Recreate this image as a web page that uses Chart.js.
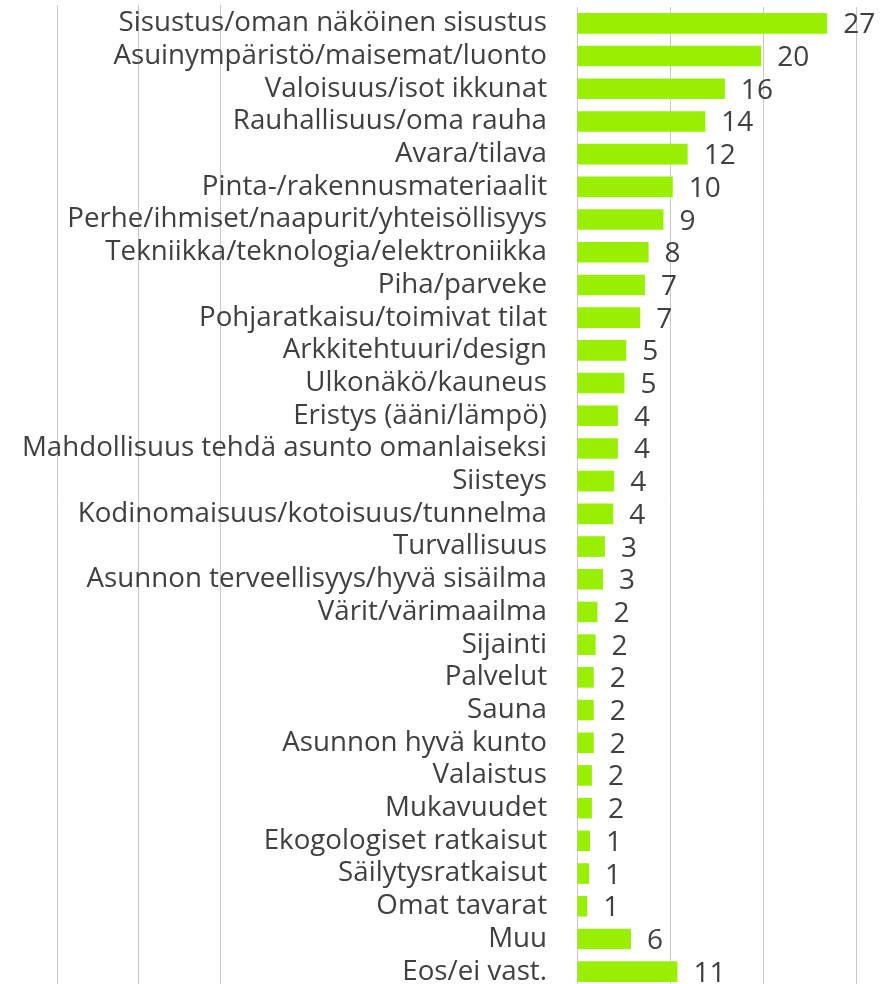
<!DOCTYPE html>
<html>
<head>
<meta charset="utf-8">
<script src="https://cdn.jsdelivr.net/npm/chart.js@4/dist/chart.umd.min.js"></script>
<style>
  html, body { margin: 0; padding: 0; background: #ffffff; overflow: hidden; }
  #wrap { position: relative; width: 882px; height: 988px; }
</style>
</head>
<body>
<div id="wrap"><canvas id="c"></canvas></div>
<script>
const categories = [
  "Sisustus/oman näköinen sisustus",
  "Asuinympäristö/maisemat/luonto",
  "Valoisuus/isot ikkunat",
  "Rauhallisuus/oma rauha",
  "Avara/tilava",
  "Pinta-/rakennusmateriaalit",
  "Perhe/ihmiset/naapurit/yhteisöllisyys",
  "Tekniikka/teknologia/elektroniikka",
  "Piha/parveke",
  "Pohjaratkaisu/toimivat tilat",
  "Arkkitehtuuri/design",
  "Ulkonäkö/kauneus",
  "Eristys (ääni/lämpö)",
  "Mahdollisuus tehdä asunto omanlaiseksi",
  "Siisteys",
  "Kodinomaisuus/kotoisuus/tunnelma",
  "Turvallisuus",
  "Asunnon terveellisyys/hyvä sisäilma",
  "Värit/värimaailma",
  "Sijainti",
  "Palvelut",
  "Sauna",
  "Asunnon hyvä kunto",
  "Valaistus",
  "Mukavuudet",
  "Ekogologiset ratkaisut",
  "Säilytysratkaisut",
  "Omat tavarat",
  "Muu",
  "Eos/ei vast."
];
const values = [26.9, 19.8, 15.9, 13.8, 11.9, 10.3, 9.3, 7.7, 7.3, 6.8, 5.3, 5.1, 4.4, 4.4, 4.0, 3.9, 3.0, 2.8, 2.2, 2.0, 1.8, 1.8, 1.8, 1.6, 1.6, 1.4, 1.3, 1.1, 5.8, 10.8];
const valueLabels = [27, 20, 16, 14, 12, 10, 9, 8, 7, 7, 5, 5, 4, 4, 4, 4, 3, 3, 2, 2, 2, 2, 2, 2, 2, 1, 1, 1, 6, 11];
const axisMin = 0, axisMax = 30, axisStep = 10;

const FONT = "'Open Sans', 'DejaVu Sans', sans-serif";
const TEXT = '#404040';
const GRID = '#c9c9c9';

const backLines = {
  id: 'backLines',
  beforeDraw(chart) {
    const ctx = chart.ctx, a = chart.chartArea;
    ctx.save();
    ctx.strokeStyle = GRID;
    ctx.lineWidth = 1;
    [357, 439, 520].forEach(off => {
      const x = Math.round(a.left - off) + 0.5;
      ctx.beginPath();
      ctx.moveTo(x, a.top - 2);
      ctx.lineTo(x, chart.height);
      ctx.stroke();
    });
    ctx.restore();
  }
};

const valueLabelPlugin = {
  id: 'valueLabels',
  afterDatasetsDraw(chart) {
    const ctx = chart.ctx;
    const meta = chart.getDatasetMeta(0);
    ctx.save();
    ctx.font = "28px " + FONT;
    ctx.fillStyle = TEXT;
    ctx.textAlign = 'left';
    ctx.textBaseline = 'middle';
    meta.data.forEach((bar, i) => {
      ctx.fillText(String(valueLabels[i]), bar.x + 16, bar.y + 2);
    });
    ctx.restore();
  }
};

new Chart(document.getElementById('c'), {
  type: 'bar',
  data: {
    labels: categories,
    datasets: [{
      data: values,
      backgroundColor: '#99ef00',
      borderWidth: 0,
      categoryPercentage: 1.0,
      barPercentage: 0.63
    }]
  },
  options: {
    indexAxis: 'y',
    responsive: true,
    maintainAspectRatio: false,
    animation: false,
    layout: { padding: { top: 7, right: 26, bottom: 0, left: 0 } },
    plugins: { legend: { display: false }, tooltip: { enabled: false } },
    scales: {
      x: {
        min: axisMin, max: axisMax,
        ticks: { stepSize: axisStep, display: false },
        grid: { color: GRID, lineWidth: 1, drawTicks: false },
        border: { display: false }
      },
      y: {
        afterFit(scale) {
          scale.width = 577;
          scale.paddingTop = 0;
          scale.paddingBottom = 0;
        },
        ticks: {
          color: TEXT,
          font: { family: FONT, size: 27.7 },
          padding: 30,
          autoSkip: false
        },
        grid: { display: false, drawTicks: false },
        border: { display: true, color: GRID, width: 1 }
      }
    }
  },
  plugins: [backLines, valueLabelPlugin]
});
</script>
</body>
</html>
